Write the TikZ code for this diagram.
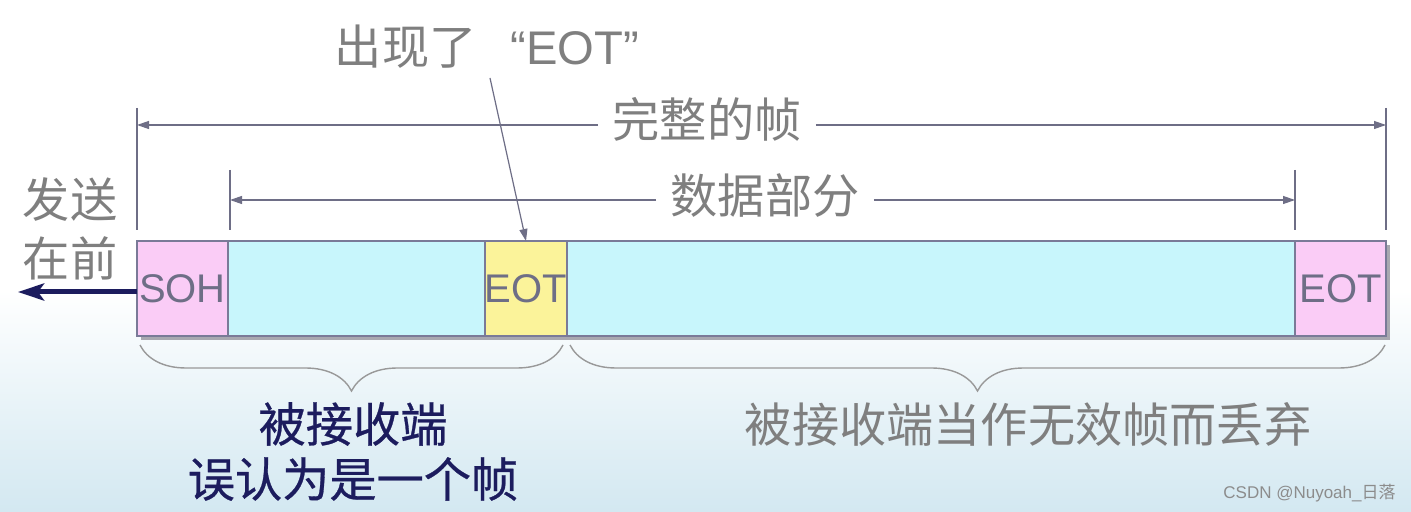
\documentclass[tikz,border=0pt]{standalone}
\usepackage{fontspec}
\setmainfont{Liberation Sans}
\newfontfamily\cjk{Noto Sans CJK SC}
\newfontfamily\cjkmed[FakeBold=0.6]{Noto Sans CJK SC}
\newfontfamily\lat{Liberation Sans}
\usetikzlibrary{arrows.meta,decorations.pathreplacing}
\definecolor{txtgray}{HTML}{7F7F7F}
\definecolor{navy}{HTML}{1C1C5E}
\definecolor{linegray}{HTML}{6E6E86}
\definecolor{boxborder}{HTML}{7A7A98}
\definecolor{pinkc}{HTML}{FACCF6}
\definecolor{cyanc}{HTML}{C8F6FC}
\definecolor{yellowc}{HTML}{FBF39A}
\definecolor{bgblue}{HTML}{D3E8F1}
\definecolor{shadowc}{HTML}{A8A8B0}
\tikzset{
  cjklabel/.style={font=\cjk\fontsize{23.6}{28}\selectfont, text=txtgray, inner sep=7pt},
  navylabel/.style={font=\cjkmed\fontsize{23.6}{28}\selectfont, text=navy, inner sep=0pt},
  field/.style={draw=boxborder, line width=0.8pt, inner sep=0pt, outer sep=0pt,
    minimum height=47.5pt, font=\lat\fontsize{20}{24}\selectfont, text=linegray},
  dim/.style={draw=linegray, line width=0.6pt},
  dimarrow/.style={dim, -{Triangle[length=6pt,width=4pt]}},
  tick/.style={draw=linegray, line width=0.6pt},
  bracestyle/.style={draw=txtgray!80, line width=0.7pt, decorate,
    decoration={brace, mirror, amplitude=23pt}},
}
\begin{document}
\begin{tikzpicture}[x=0.5pt,y=-0.5pt]
\useasboundingbox (0,0) rectangle (1411,512);
% background
\fill[white] (0,0) rectangle (1411,512);
\shade[top color=white, bottom color=bgblue] (0,290) rectangle (1411,512);

% shadow of the bar
\fill[shadowc] (141,245) rectangle (1390,340);

% fields
\node[field, fill=pinkc,   minimum width=45.5pt] (soh)  at (182.5,288.5) {SOH};
\node[field, fill=cyanc,   minimum width=128.5pt] (d1)  at (356.5,288.5) {};
\node[field, fill=yellowc, minimum width=41pt]   (eot1) at (526,288.5)   {EOT};
\node[field, fill=cyanc,   minimum width=364pt]  (d2)   at (931,288.5)   {};
\node[field, fill=pinkc,   minimum width=45.5pt] (eot2) at (1340.5,288.5) {EOT};

% full frame dimension
\coordinate (fl) at (137,125);
\coordinate (fr) at (1386,125);
\draw[tick] (137,108) -- (137,230);
\draw[tick] (1386,108) -- (1386,230);
\node[cjklabel] (full) at (707,119) {完整的帧};
\draw[dimarrow] (full.west |- fl) -- (fl);
\draw[dimarrow] (full.east |- fr) -- (fr);

% data part dimension
\coordinate (dl) at (230,200);
\coordinate (dr) at (1295,200);
\draw[tick] (230,170) -- (230,230);
\draw[tick] (1295,170) -- (1295,230);
\node[cjklabel] (data) at (765,196) {数据部分};
\draw[dimarrow] (data.west |- dl) -- (dl);
\draw[dimarrow] (data.east |- dr) -- (dr);

% EOT callout
\node[cjklabel, inner sep=0pt] (callout) at (487,47) {出现了\hspace{17pt}{\lat “EOT”}};
\coordinate (cstart) at (490,78);
\draw[dimarrow] (cstart) -- (eot1.north);

% send first
\node[cjklabel, inner sep=0pt] (send1) at (70,200) {发送};
\node[cjklabel, inner sep=0pt] (send2) at (70,258) {在前};
\coordinate (sendend) at (18,292);
\draw[navy, line width=2.5pt, -{Stealth[length=13pt,width=8.5pt,inset=3pt]}] (soh.west |- sendend) -- (sendend);

% braces
\coordinate (b1l) at (140,345);
\coordinate (b1r) at (563,345);
\coordinate (b2l) at (570,345);
\coordinate (b2r) at (1385,345);
\draw[bracestyle] (b1l) -- (b1r);
\draw[bracestyle] (b2l) -- (b2r);

% labels under braces
\node[navylabel] (recv1) at (353,424) {被接收端};
\node[navylabel] (recv2) at (353,479) {误认为是一个帧};
\node[cjklabel, inner sep=0pt] (discard) at (1028,424) {被接收端当作无效帧而丢弃};

% watermark
\node[font=\lat\fontsize{8.5}{10}\selectfont, text=black!45, inner sep=0pt, anchor=east] (wm) at (1396,493) {CSDN @Nuyoah\_{\cjk 日落}};
\end{tikzpicture}
\end{document}
